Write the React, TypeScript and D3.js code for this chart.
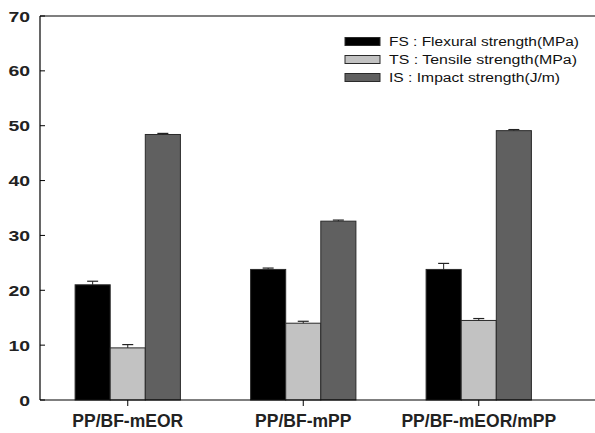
import React from "react";
import * as d3 from "d3";

const categories = ["PP/BF-mEOR", "PP/BF-mPP", "PP/BF-mEOR/mPP"];
const seriesKeys = ["FS", "TS", "IS"];
const seriesLabels = [
  "FS : Flexural strength(MPa)",
  "TS : Tensile strength(MPa)",
  "IS : Impact strength(J/m)",
];
const seriesColors = ["#000000", "#c2c2c2", "#606060"];
const fsValues = [21.0, 23.8, 23.8];
const fsErrors = [0.65, 0.25, 1.1];
const tsValues = [9.5, 14.0, 14.5];
const tsErrors = [0.6, 0.35, 0.35];
const isValues = [48.4, 32.6, 49.1];
const isErrors = [0.2, 0.2, 0.2];
const yTicks = [0, 10, 20, 30, 40, 50, 60, 70];

const values = [fsValues, tsValues, isValues];
const errors = [fsErrors, tsErrors, isErrors];

// widened legend text runs
const legendTextWidths = [190, 188, 171];

export default function App() {
  const width = 595;
  const height = 433;
  const left = 40;
  const top = 16;
  const bottom = 400;

  const y = d3.scaleLinear().domain([0, 70]).range([bottom, top]);
  const x0 = d3
    .scaleBand<string>()
    .domain(categories)
    .range([left, 566.5])
    .paddingInner(0.4)
    .paddingOuter(0.2);
  const x1 = d3
    .scaleBand<string>()
    .domain(seriesKeys)
    .range([0, x0.bandwidth()]);

  const font = "'Liberation Sans', Arial, sans-serif";

  return (
    <svg
      width={width}
      height={height}
      style={{ position: "absolute", left: 0, top: 0, background: "#fff" }}
    >
      {/* bars with upward error bars */}
      {categories.map((cat, ci) => (
        <g key={cat} transform={`translate(${x0(cat)},0)`}>
          {seriesKeys.map((key, si) => {
            const v = values[si][ci];
            const e = errors[si][ci];
            const bx = x1(key)!;
            const bw = x1.bandwidth();
            const cx = bx + bw / 2;
            return (
              <g key={key}>
                <rect
                  x={bx}
                  y={y(v)}
                  width={bw}
                  height={bottom - y(v)}
                  fill={seriesColors[si]}
                  stroke="#2a2a2a"
                  strokeWidth={1}
                />
                <line x1={cx} x2={cx} y1={y(v)} y2={y(v + e)} stroke="#222" strokeWidth={1} />
                <line x1={cx - 5.5} x2={cx + 5.5} y1={y(v + e)} y2={y(v + e)} stroke="#222" strokeWidth={1.2} />
              </g>
            );
          })}
        </g>
      ))}

      {/* frame lines */}
      <line x1={left} x2={width} y1={top} y2={top} stroke="#000" strokeWidth={1.2} />
      <line x1={left} x2={width} y1={bottom} y2={bottom} stroke="#000" strokeWidth={1.2} />
      <line x1={left} x2={left} y1={top} y2={bottom} stroke="#000" strokeWidth={1.2} />

      {/* y ticks */}
      {yTicks.map((t) => {
        const label = String(t);
        return (
          <g key={t}>
            <line x1={left} x2={left + 5} y1={y(t)} y2={y(t)} stroke="#000" strokeWidth={1} />
            <text
              x={30}
              y={y(t)}
              dy="0.36em"
              textAnchor="end"
              fontFamily={font}
              fontWeight="bold"
              fontSize={15.5}
              fill="#222"
              textLength={label.length * 10.8}
              lengthAdjust="spacingAndGlyphs"
            >
              {label}
            </text>
          </g>
        );
      })}

      {/* x ticks and category labels */}
      {categories.map((cat) => {
        const cx = x0(cat)! + x0.bandwidth() / 2;
        return (
          <g key={cat}>
            <line x1={cx} x2={cx} y1={bottom} y2={bottom + 6} stroke="#000" strokeWidth={1} />
            <text
              x={cx}
              y={426.5}
              textAnchor="middle"
              fontFamily={font}
              fontWeight="bold"
              fontSize={17.5}
              fill="#222"
            >
              {cat}
            </text>
          </g>
        );
      })}

      {/* legend */}
      {seriesLabels.map((label, i) => {
        const ly = 41.5 + i * 18;
        return (
          <g key={label}>
            <rect
              x={345}
              y={ly - 4}
              width={35}
              height={8}
              fill={seriesColors[i]}
              stroke="#2a2a2a"
              strokeWidth={1}
            />
            <text
              x={389}
              y={ly}
              dy="0.36em"
              fontFamily={font}
              fontSize={12.5}
              fill="#111"
              textLength={legendTextWidths[i]}
              lengthAdjust="spacingAndGlyphs"
            >
              {label}
            </text>
          </g>
        );
      })}
    </svg>
  );
}
